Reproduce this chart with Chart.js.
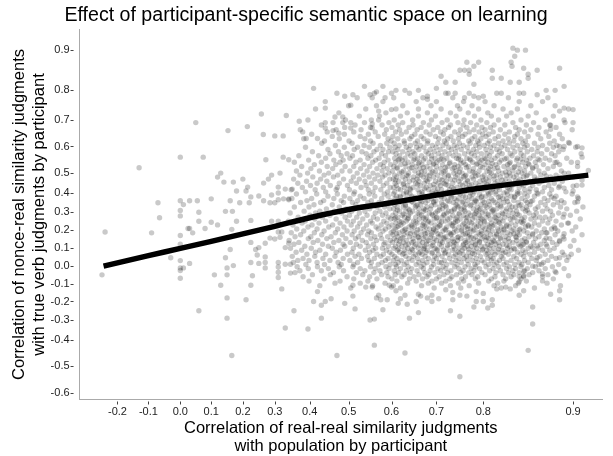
<!DOCTYPE html>
<html>
<head>
<meta charset="utf-8">
<script src="https://cdn.jsdelivr.net/npm/chart.js@4.4.1/dist/chart.umd.min.js"></script>
<style>
  html, body { margin: 0; padding: 0; background: #fff; }
  #wrap { width: 613px; height: 456px; }
</style>
</head>
<body>
<div id="wrap"><canvas id="myChart" width="613" height="456"></canvas></div>
<script>
// tick labels of both axes
const xTickValues = [-0.2, -0.1, 0.0, 0.1, 0.2, 0.3, 0.4, 0.5, 0.6, 0.7, 0.8, 0.9];
const yTickValues = [-0.6, -0.5, -0.4, -0.3, -0.2, -0.1, 0.0, 0.1, 0.2, 0.3, 0.4, 0.5, 0.6, 0.7, 0.8, 0.9];

// the axes are stretched (not linear): distance between neighbouring ticks
const xTickGaps = [31, 32, 31, 31.7, 32, 35, 39, 43, 45, 47, 90];
const yTickGaps = [27.4, 26, 20, 18.6, 18, 17.4, 18.6, 17.4, 18, 19.3, 20, 26.7, 26.6, 29.7, 40.3];
const xAxisPad = [38, 29];   // room before first / after last tick
const yAxisPad = [6.3, 20.7];

// fitted curve
const fitX = [-0.245, -0.1, 0.0, 0.1, 0.2, 0.3, 0.4, 0.5, 0.6, 0.7, 0.8, 0.917];
const fitY = [0.0, 0.057, 0.096, 0.136, 0.179, 0.222, 0.27, 0.315, 0.35, 0.39, 0.427, 0.49];

// participants in the main cloud, grouped by nonce-real correlation: [y, [x, x, ...]]
const cloudRows = [
  [.79, [.47,.56,.64,.725,.77,.815,.845]],
  [.775, [.52,.605,.67,.735,.79,.828,.872]],
  [.762, [.44,.58,.655,.70,.758,.802,.84,.866]],
  [.748, [.50,.565,.625,.688,.745,.776,.812,.853,.88]],
  [.737, [.415,.54,.61,.66,.71,.75,.79,.822,.838,.895]],
  [.724, [.475,.587,.635,.68,.73,.768,.805,.831,.859]],
  [.713, [.525,.572,.62,.66,.698,.742,.781,.809,.826,.85,.878]],
  [.70, [.395,.492,.553,.606,.647,.689,.723,.759,.795,.817,.842,.869]],
  [.69, [.46,.537,.594,.625,.671,.712,.746,.773,.804,.833,.856,.891]],
  [.681, [.43,.515,.578,.615,.648,.684,.73,.757,.786,.812,.824,.848,.874]],
  [.672, [.49,.551,.601,.639,.666,.703,.726,.765,.797,.808,.836,.862,.881]],
  [.663, [.373,.468,.529,.588,.618,.657,.693,.718,.751,.78,.802,.819,.84,.853,.899]],
  [.655, [.445,.512,.562,.609,.633,.677,.709,.739,.77,.791,.811,.829,.846,.87]],
  [.646, [.405,.489,.546,.584,.622,.652,.686,.715,.748,.761,.799,.806,.824,.838,.861,.885]],
  [.638, [.458,.527,.569,.603,.645,.666,.698,.731,.756,.782,.803,.817,.835,.85,.873]],
  [.629, [.383,.476,.538,.592,.614,.641,.672,.705,.724,.747,.776,.795,.813,.828,.842,.864,.888]],
  [.621, [.438,.501,.551,.599,.628,.658,.681,.717,.736,.769,.788,.807,.822,.834,.847,.879]],
  [.612, [.431,.508,.557,.589,.606,.629,.653,.68,.703,.721,.749,.772,.791,.805,.817,.829,.844,.857,.874,.896]],
  [.604, [.466,.536,.574,.617,.642,.664,.691,.714,.738,.757,.784,.801,.812,.824,.838,.849,.866,.882]],
  [.597, [.388,.489,.521,.548,.596,.608,.633,.656,.672,.699,.726,.744,.766,.792,.808,.82,.833,.846,.861,.878,.903]],
  [.589, [.447,.513,.566,.58,.614,.639,.661,.686,.708,.732,.753,.779,.803,.815,.827,.841,.854,.871,.889]],
  [.580, [.407,.474,.531,.559,.593,.603,.625,.648,.677,.695,.718,.741,.769,.786,.809,.818,.835,.849,.86,.884]],
  [.573, [.452,.496,.541,.577,.61,.636,.652,.682,.704,.727,.76,.775,.796,.804,.821,.83,.842,.865,.876,.909]],
  [.565, [.369,.423,.481,.509,.552,.586,.618,.643,.667,.689,.712,.736,.748,.781,.807,.816,.832,.845,.856,.88]],
  [.556, [.441,.503,.545,.571,.607,.63,.658,.675,.697,.722,.743,.765,.789,.801,.813,.826,.838,.852,.869,.893]],
  [.553, [.618,.652,.689,.71,.747,.771,.803,.824,.842,.861]],
  [.549, [.397,.462,.486,.527,.563,.592,.615,.624,.649,.671,.706,.716,.752,.773,.797,.809,.82,.837,.848,.863,.874]],
  [.541, [.356,.43,.478,.517,.556,.583,.609,.637,.662,.684,.701,.729,.758,.777,.793,.805,.818,.83,.844,.858,.882,.898]],
  [.536, [.63,.66,.694,.728,.752,.787,.81,.829,.85]],
  [.532, [.412,.467,.536,.574,.598,.621,.646,.668,.693,.713,.739,.762,.785,.802,.814,.827,.839,.851,.867,.885]],
  [.525, [.377,.445,.491,.512,.549,.581,.605,.632,.655,.679,.70,.724,.746,.768,.794,.808,.823,.835,.847,.859,.878,.905]],
  [.521, [.612,.645,.671,.719,.738,.764,.799,.816,.834,.855]],
  [.517, [.403,.459,.528,.566,.59,.613,.641,.663,.686,.709,.734,.751,.779,.806,.812,.828,.841,.855,.872]],
  [.508, [.362,.425,.483,.503,.543,.578,.602,.627,.652,.674,.698,.719,.742,.771,.791,.804,.817,.833,.846,.862,.887]],
  [.504, [.623,.667,.692,.716,.749,.778,.807,.825,.839]],
  [.500, [.394,.449,.52,.557,.594,.618,.638,.66,.688,.711,.737,.755,.782,.809,.821,.829,.843,.853,.868,.895]],
  [.490, [.372,.437,.472,.535,.568,.585,.607,.634,.666,.678,.702,.726,.745,.763,.789,.801,.815,.826,.837,.849,.864,.881]],
  [.486, [.637,.659,.684,.725,.761,.784,.812,.83,.848,.87]],
  [.481, [.408,.461,.511,.548,.579,.612,.625,.649,.671,.694,.717,.741,.758,.776,.798,.807,.819,.834,.845,.857,.875,.90]],
  [.470, [.354,.428,.487,.525,.561,.596,.604,.631,.657,.684,.707,.73,.752,.779,.803,.812,.825,.841,.86,.871]],
  [.465, [.609,.648,.677,.712,.739,.766,.80,.821,.836,.857]],
  [.459, [.391,.444,.506,.538,.573,.616,.64,.661,.68,.698,.721,.748,.767,.793,.806,.816,.829,.839,.852,.866,.888]],
  [.449, [.366,.419,.476,.518,.553,.589,.608,.627,.654,.673,.704,.716,.735,.762,.784,.801,.813,.823,.836,.848,.862,.879]],
  [.443, [.626,.658,.694,.72,.751,.775,.804,.818,.843]],
  [.438, [.402,.453,.497,.541,.581,.611,.636,.664,.686,.709,.725,.756,.771,.791,.808,.82,.832,.845,.855,.873,.904]],
  [.428, [.379,.435,.471,.529,.562,.597,.605,.629,.648,.677,.695,.733,.744,.765,.787,.803,.816,.827,.84,.868,.884]],
  [.422, [.615,.641,.673,.703,.737,.768,.792,.811,.829,.852]],
  [.417, [.347,.414,.468,.502,.546,.575,.62,.642,.659,.683,.711,.728,.753,.774,.799,.81,.818,.831,.846,.859,.876]],
  [.406, [.388,.441,.514,.557,.591,.607,.633,.668,.69,.70,.723,.739,.762,.781,.805,.814,.826,.838,.851,.866,.892]],
  [.400, [.634,.662,.699,.715,.748,.773,.808,.823,.84,.86]],
  [.395, [.362,.418,.471,.512,.548,.583,.604,.627,.641,.668,.692,.705,.733,.751,.778,.792,.806,.814,.827,.838,.846,.861,.874,.899]],
  [.384, [.447,.489,.527,.561,.592,.611,.619,.645,.673,.686,.71,.729,.757,.771,.797,.803,.819,.831,.835,.849,.857,.881]],
  [.378, [.62,.652,.679,.71,.732,.762,.796,.817,.835]],
  [.372, [.349,.405,.462,.503,.536,.577,.608,.634,.652,.66,.689,.717,.739,.748,.776,.788,.809,.822,.826,.843,.868,.879,.906]],
  [.361, [.392,.436,.481,.521,.553,.597,.615,.639,.664,.681,.699,.724,.744,.767,.783,.799,.811,.818,.834,.847,.855,.872,.887]],
  [.356, [.605,.645,.668,.694,.727,.757,.785,.806,.827,.853]],
  [.351, [.374,.428,.487,.509,.545,.571,.602,.622,.648,.676,.694,.711,.736,.755,.781,.801,.813,.823,.839,.849,.864,.883,.902]],
  [.339, [.411,.458,.517,.556,.59,.607,.631,.658,.665,.697,.714,.742,.763,.774,.795,.807,.816,.829,.842,.852,.869,.878]],
  [.334, [.631,.655,.689,.719,.745,.772,.802,.819,.84]],
  [.328, [.356,.398,.476,.531,.566,.584,.613,.626,.653,.679,.707,.721,.747,.759,.787,.804,.82,.832,.836,.848,.861,.886,.911]],
  [.318, [.443,.494,.514,.549,.596,.605,.637,.661,.672,.687,.713,.738,.753,.779,.794,.809,.815,.826,.844,.858,.871,.893]],
  [.312, [.613,.64,.676,.706,.738,.759,.791,.811,.83,.849]],
  [.306, [.384,.426,.463,.507,.538,.573,.618,.632,.647,.671,.702,.726,.732,.761,.786,.802,.81,.825,.837,.847,.866,.875,.904]],
  [.296, [.344,.415,.482,.525,.562,.587,.609,.642,.659,.684,.698,.722,.749,.769,.784,.798,.812,.821,.833,.851,.859,.884]],
  [.290, [.627,.662,.69,.716,.748,.781,.805,.822,.838]],
  [.284, [.401,.452,.502,.543,.579,.603,.624,.638,.667,.692,.716,.735,.758,.773,.791,.806,.817,.828,.84,.856,.877,.897]],
  [.273, [.367,.433,.491,.519,.558,.592,.614,.629,.654,.678,.701,.712,.744,.766,.782,.803,.813,.824,.835,.846,.863,.869,.889]],
  [.268, [.609,.638,.671,.70,.729,.763,.794,.814,.833,.858]],
  [.263, [.413,.468,.533,.567,.598,.606,.636,.662,.675,.695,.724,.741,.751,.777,.797,.808,.819,.83,.843,.853,.874,.908]],
  [.251, [.339,.387,.441,.497,.511,.551,.582,.617,.633,.649,.683,.706,.719,.745,.764,.789,.801,.814,.822,.838,.845,.866,.881]],
  [.246, [.622,.654,.681,.711,.741,.771,.801,.817,.842]],
  [.240, [.378,.424,.478,.526,.555,.589,.61,.626,.657,.671,.688,.729,.737,.759,.775,.794,.809,.818,.831,.844,.857,.872,.894]],
  [.229, [.352,.406,.459,.506,.542,.576,.601,.621,.644,.669,.697,.708,.733,.756,.781,.805,.812,.826,.836,.85,.862,.887]],
  [.224, [.615,.646,.673,.707,.735,.766,.79,.81,.826,.85]],
  [.218, [.395,.449,.488,.521,.564,.594,.612,.639,.651,.677,.703,.722,.748,.762,.786,.799,.807,.82,.829,.847,.854,.879,.903]],
  [.207, [.363,.419,.472,.535,.569,.586,.608,.631,.664,.685,.694,.718,.739,.767,.773,.802,.816,.823,.834,.841,.868,.876]],
  [.202, [.629,.658,.694,.72,.754,.78,.806,.823,.84]],
  [.196, [.383,.437,.496,.513,.547,.58,.604,.625,.646,.673,.699,.714,.743,.754,.778,.796,.81,.817,.832,.845,.859,.883,.899]],
  [.186, [.347,.412,.466,.529,.553,.599,.617,.635,.656,.68,.691,.727,.736,.766,.789,.804,.821,.827,.838,.849,.865,.871]],
  [.180, [.611,.642,.675,.703,.731,.762,.797,.815,.834,.855]],
  [.174, [.374,.431,.484,.508,.544,.574,.603,.628,.652,.666,.689,.709,.731,.757,.771,.793,.808,.815,.83,.84,.855,.88,.91]],
  [.163, [.358,.403,.455,.523,.561,.591,.614,.64,.659,.676,.705,.72,.747,.768,.784,.801,.813,.825,.836,.851,.862,.889]],
  [.158, [.625,.66,.687,.716,.745,.774,.804,.819,.837]],
  [.152, [.396,.444,.493,.516,.552,.577,.606,.621,.648,.671,.695,.716,.734,.752,.779,.797,.806,.819,.828,.846,.858,.874]],
  [.141, [.341,.421,.475,.532,.565,.597,.611,.633,.662,.683,.70,.725,.745,.761,.787,.803,.811,.824,.837,.843,.868,.885,.901]],
  [.136, [.618,.649,.679,.709,.736,.767,.792,.812,.829,.848]],
  [.130, [.369,.409,.462,.504,.541,.585,.602,.627,.645,.669,.693,.713,.738,.763,.776,.792,.809,.817,.833,.848,.856,.877]],
  [.119, [.355,.433,.486,.518,.558,.582,.616,.638,.654,.678,.707,.729,.742,.758,.783,.805,.814,.822,.839,.845,.864,.882]],
  [.114, [.632,.663,.692,.724,.757,.783,.808,.826,.843]],
  [.108, [.386,.448,.49,.527,.546,.593,.609,.623,.651,.674,.688,.711,.737,.766,.774,.795,.802,.818,.829,.841,.853,.871,.897]],
  [.097, [.345,.404,.458,.511,.563,.579,.605,.636,.66,.672,.697,.723,.749,.76,.786,.807,.812,.827,.834,.85,.861,.879]],
  [.092, [.616,.645,.672,.701,.739,.769,.799,.817,.835]],
  [.086, [.377,.426,.479,.539,.557,.588,.613,.629,.647,.68,.702,.715,.734,.755,.779,.798,.804,.821,.831,.844,.866,.874,.906]],
  [.075, [.361,.415,.468,.508,.549,.596,.618,.641,.664,.677,.691,.719,.746,.769,.789,.81,.816,.825,.838,.847,.857,.888]],
  [.070, [.628,.661,.69,.718,.75,.777,.805,.822]],
  [.064, [.392,.441,.497,.524,.566,.581,.601,.625,.653,.668,.704,.726,.741,.757,.781,.803,.813,.828,.842,.852,.869,.898]],
  [.053, [.35,.413,.465,.515,.544,.575,.607,.632,.649,.675,.696,.712,.737,.764,.772,.794,.808,.82,.834,.845,.863,.876]],
  [.042, [.381,.434,.486,.53,.56,.592,.612,.639,.658,.682,.70,.728,.748,.759,.785,.805,.811,.822,.837,.854,.881]],
  [.031, [.366,.398,.452,.503,.547,.586,.604,.622,.646,.669,.693,.717,.742,.766,.777,.797,.809,.818,.831,.846,.859,.872,.893]],
  [.020, [.353,.419,.473,.521,.553,.578,.615,.634,.661,.679,.706,.711,.733,.753,.788,.801,.815,.826,.84,.85,.867]],
  [.009, [.389,.438,.481,.512,.569,.597,.609,.628,.655,.672,.694,.722,.744,.768,.782,.806,.812,.823,.835,.843,.862,.884]],
  [-.003, [.364,.42,.476,.51,.551,.587,.611,.637,.666,.689,.714,.739,.761,.784,.803,.817,.829,.842,.858,.877]],
  [-.014, [.396,.448,.527,.562,.594,.62,.645,.671,.703,.72,.748,.774,.792,.811,.826,.836,.849,.869,.89]],
  [-.026, [.372,.43,.487,.538,.573,.606,.633,.657,.686,.709,.731,.757,.78,.807,.819,.833,.846,.862]],
  [-.037, [.358,.461,.518,.559,.589,.616,.642,.674,.697,.724,.752,.769,.797,.814,.828,.84,.855,.881]],
  [-.049, [.407,.453,.533,.577,.608,.628,.661,.683,.716,.743,.776,.802,.822,.834,.851,.872]],
  [-.061, [.381,.496,.549,.592,.623,.65,.679,.706,.733,.762,.788,.813,.831,.845,.866]],
  [-.073, [.437,.512,.566,.601,.64,.669,.70,.729,.754,.783,.809,.825,.842,.878]],
  [-.086, [.398,.478,.545,.612,.655,.69,.72,.758,.806,.823,.848]],
  [-.098, [.465,.527,.585,.636,.682,.711,.747,.79,.816,.839,.871]],
  [-.112, [.426,.556,.604,.667,.73,.77,.812,.836,.886]],
  [-.125, [.505,.62,.695,.752,.82,.857]]
];

// loose participants outside the main cloud: [x, y]
const outerPoints = [
  [.833,.905],[.838,.90],[.847,.90],[.835,.885],[.831,.87],[.832,.86],[.845,.855],[.86,.85],[.85,.84],[.885,.855],
  [.765,.87],[.78,.86],[.79,.87],[.75,.85],[.76,.85],[.77,.85],[.77,.84],[.81,.85],[.71,.835],[.72,.82],
  [.74,.82],[.78,.815],[.81,.83],[.82,.83],[.83,.82],[.84,.82],[.85,.83],[.89,.81],[.87,.80],[.88,.80],
  [.61,.80],[.63,.80],[.66,.80],[.70,.805],[.72,.79],[.74,.79],[.68,.78],[.68,.77],[.537,.81],[.58,.81],
  [.41,.805],[.49,.78],[.51,.785],[.55,.785],[.555,.775],[.565,.795],[.585,.775],[.60,.79],[.82,.79],[.84,.79],
  [.86,.785],[.80,.78],[.76,.775],[.78,.78],
  [.44,.74],[.505,.75],[.37,.695],[.465,.71],[.485,.71],[.485,.69],[.505,.69],[.44,.69],[.44,.67],[.505,.67],
  [.57,.73],[.57,.70],[.555,.685],[.555,.67],[.60,.735],[.38,.655],[.39,.63],[.42,.63],[.46,.66],[.475,.65],
  [.885,.73],[.89,.74],[.90,.735],[.89,.70],[.90,.69],[.875,.68],[.875,.665],[.895,.615],[.885,.60],[.89,.60],
  [.905,.60],[.91,.595],[.91,.56],[.905,.54],[.88,.54],[.89,.50],[.885,.48],[.91,.465],[.917,.51],[.90,.435],
  [.885,.435],[.90,.41],[.89,.425],[.91,.44],[.905,.38],[.905,.355],[.89,.35],[.876,.38],
  [.89,.29],[.895,.24],[.88,.21],[.87,.185],[.89,.18],[.89,.15],[.885,.135],[.87,.155],[.87,.12],[.86,.11],
  [.855,.10],[.885,.045],[.89,.06],[.895,.05],[.86,.045],[.865,.01],[.855,.0],[.88,-.03],[.895,-.055],[.866,-.045],
  [.866,-.085],[.845,-.03],[.84,-.06],[.845,-.055],[.84,-.09],
  [.355,-.25],[.41,-.20],[.43,-.22],[.44,-.20],[.455,-.185],[.42,-.145],[.49,-.21],[.515,-.24],[.51,-.17],[.51,-.11],
  [.54,-.12],[.555,-.12],[.57,-.165],[.565,-.18],[.575,-.19],[.59,-.19],[.58,-.245],[.595,-.11],[.60,-.12],[.43,-.29],
  [.395,-.345],[.55,-.30],[.56,-.295],[.56,-.42],[.47,-.46],
  [.61,-.14],[.62,-.185],[.615,-.21],[.63,-.165],[.635,-.215],[.66,-.16],[.665,-.17],[.655,-.20],[.68,-.18],[.69,-.165],
  [.69,-.20],[.705,-.185],[.72,-.135],[.735,-.15],[.735,-.19],[.75,-.165],[.765,-.17],[.78,-.23],[.785,-.20],[.80,-.20],
  [.785,-.145],[.80,-.155],[.81,-.19],[.81,-.22],[.805,-.235],[.73,-.25],[.75,-.28],[.66,-.26],[.64,-.29],[.63,-.45],
  [.75,-.54],[.845,-.14],[.84,-.165],[.875,-.16],[.885,-.14],[.885,-.19],[.855,-.23],[.855,-.32],[.85,-.44],[.83,-.13],
  [.825,-.12],[.815,-.13],
  [.0,.56],[-.13,.52],[-.07,.35],[.0,.36],[.01,.34],[.0,.31],[-.065,.27],[.0,.28],[.025,.21],[-.24,.19],
  [-.09,.185],[.0,.17],[.0,.12],[-.03,.045],[.0,.03],[.0,-.01],[.01,-.01],[.0,-.025],[.0,-.07],[-.25,-.05],
  [.258,.72],[.333,.715],[.05,.69],[.153,.66],[.214,.675],[.264,.645],[.30,.64],[.324,.64],[.074,.56],[.272,.55],
  [.324,.56],[.34,.55],[.13,.50],[.12,.48],[.14,.455],[.17,.455],[.20,.47],[.18,.41],[.21,.41],[.215,.43],
  [.225,.38],[.25,.385],[.265,.45],[.28,.47],[.29,.49],[.315,.50],[.29,.39],[.31,.40],[.31,.43],[.33,.42],
  [.34,.37],[.35,.42],[.03,.36],[.055,.36],[.10,.37],[.16,.36],[.19,.35],[.22,.35],[.265,.36],[.285,.35],
  [.30,.35],[.31,.365],[.325,.37],[.34,.365],[.06,.30],[.145,.305],[.167,.305],
  [.06,.25],[.10,.245],[.12,.23],[.08,.21],[.165,.205],[.18,.25],[.225,.255],[.29,.25],[.31,.25],[.04,.185],
  [.03,.21],[.32,.19],[.31,.19],[.225,.13],[.24,.09],[.25,.10],[.27,.125],[.285,.155],[.30,.15],[.315,.16],
  [.33,.10],[.34,.125],[.16,.09],[.145,.045],[.245,.06],[.27,.05],[.27,.02],[.27,-.01],[.31,.02],[.31,-.005],
  [.31,-.035],[.31,-.065],[.33,.01],[.345,.01],[.345,-.04],[.225,.02],[.25,.015],[.17,.003],[.15,-.01],[.11,-.05],
  [.15,-.05],[.23,-.055],[.03,.015],[.13,-.11],[.225,-.11],[.32,-.13],[.15,-.18],[.21,-.19],[.06,-.25],[.15,-.29],
  [.33,-.34],[.165,-.46]
];

// piecewise linear stretch of an axis, extended past the end ticks
function makeStretch(ticks, gaps) {
  const pos = [0];
  gaps.forEach((g, i) => pos.push(pos[i] + g));
  const f = v => {
    let i = 0;
    while (i < ticks.length - 2 && v > ticks[i + 1]) i++;
    return pos[i] + (v - ticks[i]) / (ticks[i + 1] - ticks[i]) * (pos[i + 1] - pos[i]);
  };
  f.end = pos[pos.length - 1];
  return f;
}
const sx = makeStretch(xTickValues, xTickGaps);
const sy = makeStretch(yTickValues, yTickGaps);

const cloud = [];
cloudRows.forEach(([y, xs]) => xs.forEach(x => cloud.push({ x: sx(x), y: sy(y) })));
outerPoints.forEach(([x, y]) => cloud.push({ x: sx(x), y: sy(y) }));
const fitLine = fitX.map((x, i) => ({ x: sx(x), y: sy(fitY[i]) }));

// short tick marks, set a little apart from the axis lines
const tickDashes = {
  id: 'tickDashes',
  afterDraw(chart) {
    const { ctx, chartArea, scales } = chart;
    ctx.save();
    ctx.strokeStyle = '#444';
    ctx.lineWidth = 1;
    ctx.beginPath();
    scales.x.ticks.forEach(t => {
      const p = Math.round(scales.x.getPixelForValue(t.value)) + 0.5;
      ctx.moveTo(p, chartArea.bottom + 2);
      ctx.lineTo(p, chartArea.bottom + 5);
    });
    scales.y.ticks.forEach(t => {
      const p = Math.round(scales.y.getPixelForValue(t.value)) + 0.5;
      ctx.moveTo(chartArea.left - 9, p);
      ctx.lineTo(chartArea.left - 6, p);
    });
    ctx.stroke();
    ctx.restore();
  }
};

Chart.defaults.font.family = '"Liberation Sans", Arial, sans-serif';
Chart.defaults.color = '#222';

const ctx = document.getElementById('myChart').getContext('2d');
new Chart(ctx, {
  type: 'scatter',
  data: {
    datasets: [
      {
        data: fitLine,
        showLine: true,
        borderColor: '#000',
        borderWidth: 5.5,
        pointRadius: 0,
        tension: 0.4,
        order: 0
      },
      {
        data: cloud,
        pointRadius: 2.7,
        pointBorderWidth: 0,
        backgroundColor: 'rgba(0,0,0,0.21)',
        order: 1
      }
    ]
  },
  options: {
    responsive: false,
    animation: false,
    devicePixelRatio: 1,
    layout: { padding: { left: 10, right: 11, top: 0, bottom: 0 } },
    plugins: {
      legend: { display: false },
      tooltip: { enabled: false },
      title: {
        display: true,
        text: 'Effect of participant-specific semantic space on learning',
        color: '#000',
        font: { size: 19.6, weight: 'normal' },
        padding: { top: 4, bottom: 2 }
      }
    },
    scales: {
      x: {
        type: 'linear',
        min: -xAxisPad[0],
        max: sx.end + xAxisPad[1],
        afterBuildTicks: scale => { scale.ticks = xTickValues.map(v => ({ value: sx(v) })); },
        ticks: {
          autoSkip: false,
          maxRotation: 0,
          padding: 1,
          font: { size: 11 },
          callback: (val, i) => xTickValues[i].toFixed(1)
        },
        grid: { drawOnChartArea: false, tickLength: 5, tickColor: 'rgba(0,0,0,0)' },
        border: { display: true, color: '#aaa' },
        title: {
          display: true,
          text: ['Correlation of real-real similarity judgments', 'with population by participant'],
          color: '#000',
          font: { size: 16.5, lineHeight: 1.1 },
          padding: { top: 0, bottom: 0 }
        }
      },
      y: {
        type: 'linear',
        min: -yAxisPad[0],
        max: sy.end + yAxisPad[1],
        afterBuildTicks: scale => { scale.ticks = yTickValues.map(v => ({ value: sy(v) })); },
        ticks: {
          autoSkip: false,
          padding: 1,
          font: { size: 11 },
          callback: (val, i) => yTickValues[i].toFixed(1)
        },
        grid: { drawOnChartArea: false, tickLength: 9, tickColor: 'rgba(0,0,0,0)' },
        border: { display: true, color: '#aaa' },
        title: {
          display: true,
          text: ['Correlation of nonce-real similarity judgments', 'with true verb judgments by participant'],
          color: '#000',
          font: { size: 16.5, lineHeight: 1.2 },
          padding: { top: 0, bottom: 0 }
        }
      }
    }
  },
  plugins: [tickDashes]
});
</script>
</body>
</html>
